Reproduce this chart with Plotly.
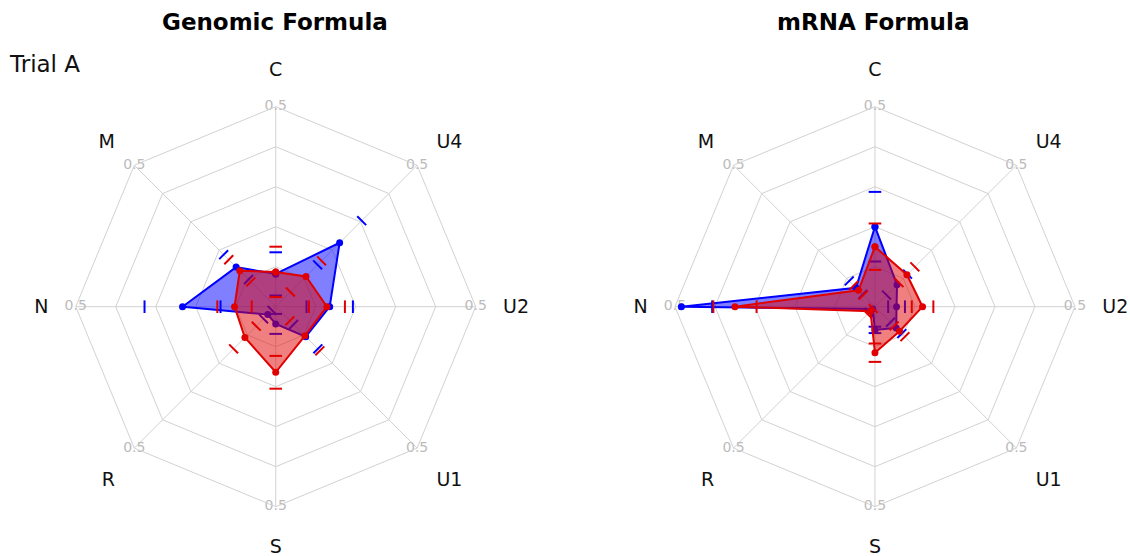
import plotly.graph_objects as go

categories = ["C", "U4", "U2", "U1", "S", "R", "N", "M"]

# Genomic Formula
genomic_blue = [0.082, 0.226, 0.135, 0.106, 0.043, 0.028, 0.233, 0.140]
genomic_blue_err = [0.054, 0.078, 0.058, 0.043, 0.025, 0.015, 0.095, 0.044]
genomic_red = [0.087, 0.107, 0.128, 0.103, 0.164, 0.109, 0.103, 0.127]
genomic_red_err = [0.063, 0.055, 0.045, 0.053, 0.041, 0.040, 0.043, 0.039]

# mRNA Formula
mrna_blue = [0.200, 0.078, 0.054, 0.075, 0.058, 0.008, 0.484, 0.067]
mrna_blue_err = [0.087, 0.037, 0.021, 0.020, 0.008, 0.012, 0.077, 0.024]
mrna_red = [0.150, 0.113, 0.119, 0.087, 0.115, 0.016, 0.350, 0.058]
mrna_red_err = [0.058, 0.028, 0.027, 0.019, 0.023, 0.010, 0.054, 0.017]

panel_titles = ["Genomic Formula", "mRNA Formula"]
row_label = "Trial A"
axis_max = 0.5
axis_max_label = "0.5"

BLUE = "#0000ff"
BLUE_FILL = "rgba(0,0,255,0.5)"
RED = "#e00000"
RED_FILL = "rgba(225,0,0,0.5)"
GRID = "#d2d2d2"
FONT = "DejaVu Sans"
CLEAR = "rgba(0,0,0,0)"

n = len(categories)
bearings = [i * 360.0 / n for i in range(n)]

fig = go.Figure()


def add_series(polar, vals, errs, color, fill):
    fig.add_trace(go.Scatterpolar(
        r=vals + vals[:1], theta=categories + categories[:1], subplot=polar,
        mode="lines+markers", fill="toself", fillcolor=fill,
        line=dict(color=color, width=2),
        marker=dict(color=color, size=7), hoverinfo="skip", showlegend=False))
    rr, tt, aa = [], [], []
    for v, e, c, a in zip(vals, errs, categories, bearings):
        for r in (v - e, v + e):
            if r >= 0:
                rr.append(r)
                tt.append(c)
                aa.append(a)
    fig.add_trace(go.Scatterpolar(
        r=rr, theta=tt, subplot=polar, mode="markers", cliponaxis=False,
        marker=dict(symbol="line-ew", size=9, angle=aa,
                    line=dict(color=color, width=2)),
        hoverinfo="skip", showlegend=False))


def add_labels(polar):
    fig.add_trace(go.Scatterpolar(
        r=[axis_max] * n, theta=categories, subplot=polar, mode="text",
        text=[axis_max_label] * n, textposition="middle center",
        textfont=dict(family=FONT, size=14, color="#bbbbbb"),
        cliponaxis=False, hoverinfo="skip", showlegend=False))


add_labels("polar")
add_series("polar", genomic_blue, genomic_blue_err, BLUE, BLUE_FILL)
add_series("polar", genomic_red, genomic_red_err, RED, RED_FILL)
add_labels("polar2")
add_series("polar2", mrna_blue, mrna_blue_err, BLUE, BLUE_FILL)
add_series("polar2", mrna_red, mrna_red_err, RED, RED_FILL)


def polar_layout(xdom):
    return dict(
        domain=dict(x=xdom, y=[0.0887, 0.8081]),
        gridshape="linear",
        bgcolor="white",
        radialaxis=dict(range=[0, axis_max], dtick=0.1, showticklabels=False,
                        ticks="", showline=False, gridcolor=GRID, gridwidth=1),
        angularaxis=dict(categoryorder="array", categoryarray=categories,
                         rotation=90, direction="clockwise",
                         showticklabels=True, ticks="outside", ticklen=23,
                         tickcolor=CLEAR,
                         tickfont=dict(family=FONT, size=19, color="#111111"),
                         showline=True, linecolor=GRID, linewidth=1,
                         gridcolor=GRID),
    )


fig.update_layout(
    width=1130, height=556,
    margin=dict(l=0, r=0, t=0, b=0),
    paper_bgcolor="white", plot_bgcolor="white",
    font=dict(family=FONT),
    modebar=dict(bgcolor=CLEAR, color=CLEAR, activecolor=CLEAR),
    polar=polar_layout([0.0670, 0.4210]),
    polar2=polar_layout([0.5973, 0.9513]),
    annotations=[
        dict(text="<b>%s</b>" % panel_titles[0], x=0.2434, y=0.9604,
             xanchor="center", yanchor="middle",
             xref="paper", yref="paper", showarrow=False,
             font=dict(family=FONT, size=23, color="black")),
        dict(text="<b>%s</b>" % panel_titles[1], x=0.7726, y=0.9604,
             xanchor="center", yanchor="middle",
             xref="paper", yref="paper", showarrow=False,
             font=dict(family=FONT, size=23, color="black")),
        dict(text=row_label, x=0.0062, y=0.8849, xanchor="left",
             yanchor="middle",
             xref="paper", yref="paper", showarrow=False,
             font=dict(family=FONT, size=23, color="#111111")),
    ],
)

fig.write_html("out.html", config={"displayModeBar": False},
               post_script="document.body.style.margin = '0px';")
